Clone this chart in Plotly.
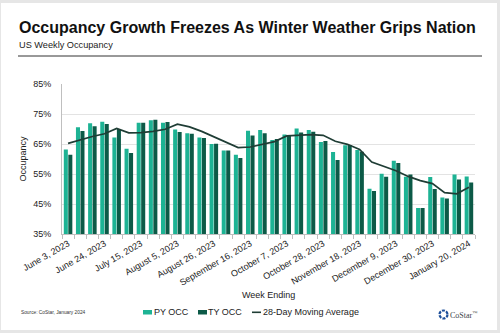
import plotly.graph_objects as go

# Week-ending dates (Saturdays), June 2023 through January 2024
week_ending = [
    "June 3, 2023", "June 10, 2023", "June 17, 2023", "June 24, 2023",
    "July 1, 2023", "July 8, 2023", "July 15, 2023", "July 22, 2023",
    "July 29, 2023", "August 5, 2023", "August 12, 2023", "August 19, 2023",
    "August 26, 2023", "September 2, 2023", "September 9, 2023", "September 16, 2023",
    "September 23, 2023", "September 30, 2023", "October 7, 2023", "October 14, 2023",
    "October 21, 2023", "October 28, 2023", "November 4, 2023", "November 11, 2023",
    "November 18, 2023", "November 25, 2023", "December 2, 2023", "December 9, 2023",
    "December 16, 2023", "December 23, 2023", "December 30, 2023", "January 6, 2024",
    "January 13, 2024", "January 20, 2024",
]

# Prior-year occupancy (%)
py_occ = [
    63.2, 70.6, 71.9, 72.4, 67.2, 63.4, 72.1, 72.9, 72.1, 69.8,
    68.6, 67.2, 65.0, 62.8, 61.4, 69.4, 69.7, 66.3, 68.2, 70.2,
    69.7, 65.7, 62.3, 64.6, 63.0, 50.1, 55.1, 59.4, 54.1, 43.7,
    54.0, 47.2, 54.8, 54.2,
]

# This-year occupancy (%)
ty_occ = [
    61.4, 69.3, 70.9, 71.7, 70.0, 62.0, 72.1, 73.1, 72.3, 69.0,
    68.4, 67.0, 65.1, 62.8, 60.3, 67.8, 68.6, 66.7, 67.8, 68.8,
    69.1, 66.0, 59.7, 64.7, 62.4, 49.3, 54.1, 58.7, 54.8, 43.7,
    50.0, 46.8, 53.2, 52.2,
]

# 28-day moving average (%)
moving_avg = [
    65.2, 66.4, 67.5, 68.4, 70.2, 68.7, 68.8, 69.2, 69.9, 71.6,
    70.7, 69.2, 67.4, 65.8, 63.8, 64.0, 64.9, 65.8, 67.7, 68.0,
    68.1, 67.9, 65.9, 64.9, 63.2, 59.0, 57.6, 56.1, 54.2, 52.8,
    51.8, 48.8, 48.4, 50.6,
]

# Label every third week
tick_text = [w if i % 3 == 0 else "" for i, w in enumerate(week_ending)]

PY_COLOR = "#1db394"
TY_COLOR = "#0c5a47"
LINE_COLOR = "#1f3d35"
FONT = "Liberation Sans, Arial, sans-serif"

W, H = 500, 333
ML, MR, MT, MB = 62, 25, 84, 99
PW, PH = W - ML - MR, H - MT - MB


def px_x(x):
    return (x - ML) / PW


def px_y(y):
    return (H - MB - y) / PH


fig = go.Figure()
fig.add_trace(go.Bar(x=week_ending, y=py_occ, name="PY OCC", marker_color=PY_COLOR,
                     marker_line_width=0))
fig.add_trace(go.Bar(x=week_ending, y=ty_occ, name="TY OCC", marker_color=TY_COLOR,
                     marker_line_width=0))
fig.add_trace(go.Scatter(x=week_ending, y=moving_avg, name="28-Day Moving Average",
                         mode="lines", line=dict(color=LINE_COLOR, width=1.7)))

shapes = [
    # outer frame and white card
    dict(type="rect", xref="paper", yref="paper", layer="below",
         x0=px_x(1), x1=px_x(497), y0=px_y(330), y1=px_y(3),
         fillcolor="white", line=dict(width=0)),
    # rule under subtitle
    dict(type="line", xref="paper", yref="paper",
         x0=px_x(18), x1=px_x(482), y0=px_y(56), y1=px_y(56),
         line=dict(color="#333333", width=1)),
    # legend symbols
    dict(type="rect", xref="paper", yref="paper",
         x0=px_x(143), x1=px_x(152), y0=px_y(314.5), y1=px_y(310),
         fillcolor=PY_COLOR, line=dict(width=0)),
    dict(type="rect", xref="paper", yref="paper",
         x0=px_x(198), x1=px_x(207), y0=px_y(314.5), y1=px_y(310),
         fillcolor=TY_COLOR, line=dict(width=0)),
    dict(type="line", xref="paper", yref="paper",
         x0=px_x(252), x1=px_x(261), y0=px_y(312.3), y1=px_y(312.3),
         line=dict(color=LINE_COLOR, width=1.6)),
    # CoStar logo ring
    dict(type="circle", xref="paper", yref="paper",
         x0=px_x(439.5), x1=px_x(447.5), y0=px_y(318.5), y1=px_y(310.5),
         line=dict(color="#1d4f9a", width=2.2, dash="3px,1.2px")),
]

annotations = [
    dict(text="<b>Occupancy Growth Freezes As Winter Weather Grips Nation</b>",
         x=px_x(18), y=px_y(27.5), xanchor="left", yanchor="middle",
         font=dict(size=16, color="#111111", family=FONT)),
    dict(text="US Weekly Occupancy", x=px_x(18), y=px_y(45), xanchor="left",
         yanchor="middle", font=dict(size=9.2, color="#222222", family=FONT)),
    dict(text="Week Ending", x=0.5, y=px_y(295), xanchor="center", yanchor="middle",
         font=dict(size=9, color="#222222", family=FONT)),
    dict(text="Source: CoStar, January 2024", x=px_x(20), y=px_y(312.5), xanchor="left",
         yanchor="middle", font=dict(size=4.8, color="#333333", family=FONT)),
    dict(text="PY OCC", x=px_x(152.5), y=px_y(312.3), xanchor="left", yanchor="middle",
         font=dict(size=9, color="#222222", family=FONT)),
    dict(text="TY OCC", x=px_x(207), y=px_y(312.3), xanchor="left", yanchor="middle",
         font=dict(size=9, color="#222222", family=FONT)),
    dict(text="28-Day Moving Average", x=px_x(261.5), y=px_y(312.3), xanchor="left",
         yanchor="middle", font=dict(size=9, color="#222222", family=FONT)),
    dict(text="CoStar<sup>™</sup>", x=px_x(449), y=px_y(314.5), xanchor="left",
         yanchor="middle", font=dict(size=8, color="#3a3f4a",
                                     family="Liberation Serif, Times New Roman, serif")),
]
for a in annotations:
    a.update(xref="paper", yref="paper", showarrow=False)
    a.setdefault("borderpad", 0)

fig.update_layout(
    width=W, height=H,
    margin=dict(l=ML, r=MR, t=MT, b=MB, pad=0),
    paper_bgcolor="#e6e6e6",
    plot_bgcolor="white",
    barmode="group",
    bargap=0.26,
    bargroupgap=0.1,
    showlegend=False,
    shapes=shapes,
    annotations=annotations,
    font=dict(family=FONT, color="#222222"),
)

fig.update_xaxes(
    type="category",
    tickmode="array",
    tickvals=week_ending,
    ticktext=tick_text,
    tickangle=-30,
    tickson="boundaries",
    ticks="outside",
    ticklen=4,
    tickcolor="#bfbfbf",
    showline=True,
    linecolor="#bfbfbf",
    linewidth=1,
    showgrid=False,
    tickfont=dict(size=9, color="#222222"),
    range=[-0.5, len(week_ending) - 0.5],
)

fig.update_yaxes(
    range=[35, 85],
    dtick=10,
    tick0=35,
    ticksuffix="%",
    showgrid=True,
    gridcolor="#e3e3e3",
    gridwidth=1,
    showline=True,
    linecolor="#bfbfbf",
    linewidth=1,
    zeroline=False,
    ticks="",
    ticklabelstandoff=8,
    tickfont=dict(size=9, color="#222222"),
    title=dict(text="Occupancy", font=dict(size=9, color="#222222"), standoff=5),
)

fig.write_html("out.html")
